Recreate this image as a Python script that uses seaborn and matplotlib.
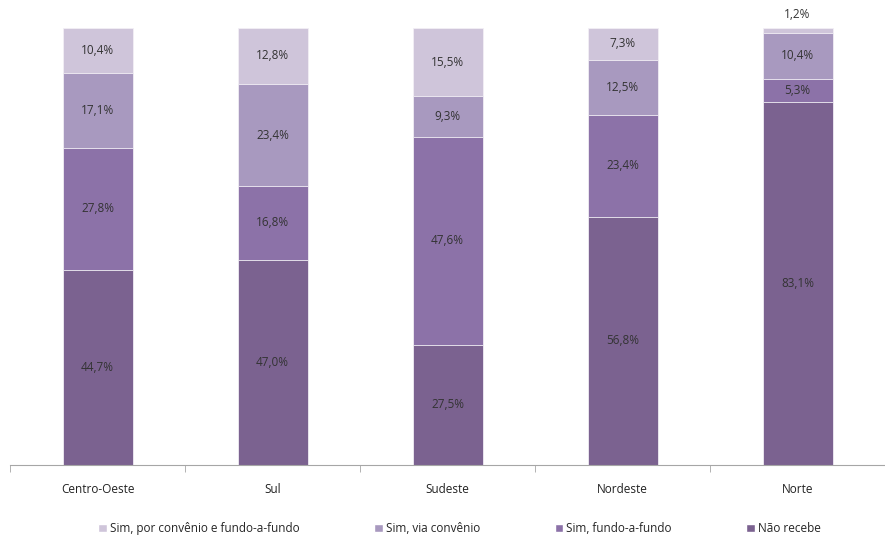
import numpy as np
import pandas as pd
import seaborn as sns
import matplotlib.pyplot as plt
from matplotlib.patches import Patch

# Data
regioes = ["Centro-Oeste", "Sul", "Sudeste", "Nordeste", "Norte"]
nao_recebe = [44.7, 47.0, 27.5, 56.8, 83.1]
fundo_a_fundo = [27.8, 16.8, 47.6, 23.4, 5.3]
via_convenio = [17.1, 23.4, 9.3, 12.5, 10.4]
convenio_e_fundo = [10.4, 12.8, 15.5, 7.3, 1.2]

series_names = ["Não recebe", "Sim, fundo-a-fundo", "Sim, via convênio",
                "Sim, por convênio e fundo-a-fundo"]
series_vals = [nao_recebe, fundo_a_fundo, via_convenio, convenio_e_fundo]
colors = ["#7b6290", "#8c72a8", "#a899bf", "#cfc5da"]

df = pd.DataFrame({"regiao": regioes})
for name, vals in zip(series_names, series_vals):
    df[name] = vals

sns.set_style("white")
plt.rcParams["font.family"] = ["Open Sans", "DejaVu Sans"]

fig = plt.figure(figsize=(8.85, 5.35), dpi=100)
ax = fig.add_axes([10 / 885, 70 / 535, 875 / 885, 437 / 535])

# stacked bars: draw cumulative totals from the top segment down
cum = df[series_names].cumsum(axis=1)
for i in range(len(series_names) - 1, -1, -1):
    sns.barplot(x=df["regiao"], y=cum[series_names[i]], color=colors[i],
                saturation=1, width=0.4, edgecolor="#f2eff5", linewidth=0.6,
                ax=ax)

# value labels
for j in range(len(regioes)):
    bottom = 0
    for i, name in enumerate(series_names):
        v = df[name][j]
        lab = f"{v:.1f}%".replace(".", ",")
        if v < 3:
            ax.text(j, bottom + v + 1.5, lab, ha="center", va="bottom",
                    fontsize=8.5, color="#333333")
        else:
            ax.text(j, bottom + v / 2, lab, ha="center", va="center",
                    fontsize=8.5, color="#333333")
        bottom += v

ax.set_ylim(0, 100)
ax.set_xlim(-0.5, len(regioes) - 0.5)
ax.set_xlabel("")
ax.set_ylabel("")
ax.set_yticks([])
for s in ["top", "right", "left"]:
    ax.spines[s].set_visible(False)
ax.spines["bottom"].set_color("#a6a6a6")
ax.set_xticks(range(len(regioes)))
ax.set_xticklabels(regioes, fontsize=8.5, color="#222222")
ax.tick_params(axis="x", which="major", length=0, pad=13)
ax.set_xticks(np.arange(-0.5, len(regioes)), minor=True)
ax.tick_params(axis="x", which="minor", length=5, color="#a6a6a6",
               direction="out", bottom=True)

handles = [Patch(facecolor=colors[i], label=series_names[i]) for i in range(3, -1, -1)]
ax.legend(handles=handles, loc="center", bbox_to_anchor=(0.514, -0.145),
          ncol=4, frameon=False, fontsize=8.5, handlelength=0.7,
          handleheight=0.7, handletextpad=0.3, columnspacing=6.3)

fig.savefig("out.png", dpi=100)
